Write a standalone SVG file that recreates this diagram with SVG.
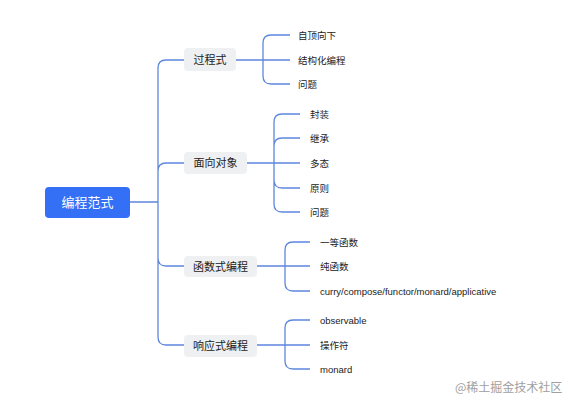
<svg xmlns="http://www.w3.org/2000/svg" width="576" height="405" viewBox="0 0 576 405">
<style>
.c{fill:none;stroke:#5d87df;stroke-width:1.3}
.n2{fill:#eef0f2}
.t2{font-family:"Liberation Sans","Noto Sans CJK SC",sans-serif;font-size:11px;fill:#222;dominant-baseline:central}
.t3{font-family:"Liberation Sans","Noto Sans CJK SC",sans-serif;font-size:9.5px;fill:#222;dominant-baseline:central}
.t1{font-family:"Liberation Sans","Noto Sans CJK SC",sans-serif;font-size:13px;fill:#fff;dominant-baseline:central;text-anchor:middle}
.t2m{text-anchor:middle}
</style>
<rect width="576" height="405" fill="#fff"/>
<g id="connectors">
<path class="c" d="M130 202 H158 M184 60 H166 Q158 60 158 68 V337 Q158 345 166 345 H184 M158 171 Q158 163 166 163 H184 M158 258 Q158 266 166 266 H184"/>
<path class="c" d="M236 60 H290 M290 35 H271 Q263 35 263 43 V76 Q263 84 271 84 H290"/>
<path class="c" d="M247 163 H300 M300 114 H282 Q274 114 274 122 V204 Q274 212 282 212 H300 M300 138 H282 Q274 138 274 146 M300 188 H282 Q274 188 274 180"/>
<path class="c" d="M257 266 H310 M310 242 H293 Q285 242 285 250 V283 Q285 291 293 291 H310"/>
<path class="c" d="M257 345 H310 M310 320 H293 Q285 320 285 328 V361 Q285 369 293 369 H310"/>
</g>
<g id="root">
<rect x="45" y="187" width="85" height="31" rx="4" fill="#3370f5"/>
<text class="t1" x="87.5" y="202.5">编程范式</text>
</g>
<g id="n-guocheng">
<rect class="n2" x="184" y="48" width="52" height="23" rx="4"/>
<text class="t2 t2m" x="210" y="59.5">过程式</text>
</g>
<g id="n-mianxiang">
<rect class="n2" x="184" y="152" width="63" height="22" rx="4"/>
<text class="t2 t2m" x="215.5" y="163">面向对象</text>
</g>
<g id="n-hanshu">
<rect class="n2" x="184" y="256" width="73" height="21" rx="4"/>
<text class="t2 t2m" x="220.5" y="266.5">函数式编程</text>
</g>
<g id="n-xiangying">
<rect class="n2" x="184" y="335" width="73" height="22" rx="4"/>
<text class="t2 t2m" x="220.5" y="346">响应式编程</text>
</g>
<g id="leaves-guocheng">
<text class="t3" x="298" y="35">自顶向下</text>
<text class="t3" x="298" y="60">结构化编程</text>
<text class="t3" x="298" y="84">问题</text>
</g>
<g id="leaves-mianxiang">
<text class="t3" x="310" y="114">封装</text>
<text class="t3" x="310" y="138">继承</text>
<text class="t3" x="310" y="163">多态</text>
<text class="t3" x="310" y="188">原则</text>
<text class="t3" x="310" y="212">问题</text>
</g>
<g id="leaves-hanshu">
<text class="t3" x="320" y="242">一等函数</text>
<text class="t3" x="320" y="266">纯函数</text>
<text class="t3" x="320" y="291">curry/compose/functor/monard/applicative</text>
</g>
<g id="leaves-xiangying">
<text class="t3" x="320" y="320">observable</text>
<text class="t3" x="320" y="345">操作符</text>
<text class="t3" x="320" y="369">monard</text>
</g>
<text x="455" y="386" font-family="Noto Sans CJK SC,sans-serif" font-size="12" fill="#a0a0a0" dominant-baseline="central">@稀土掘金技术社区</text>
</svg>
